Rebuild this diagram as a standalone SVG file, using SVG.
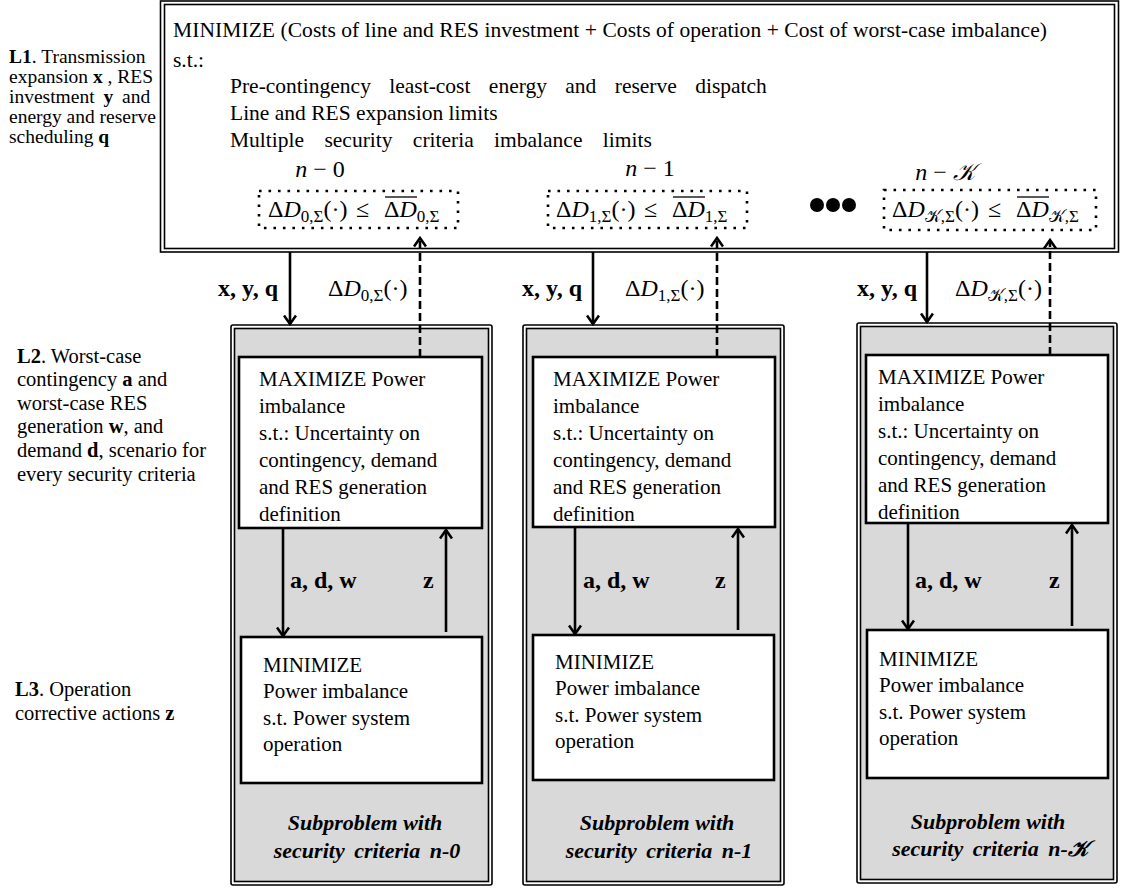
<svg xmlns="http://www.w3.org/2000/svg" width="1121" height="888" viewBox="0 0 1121 888">
  <style>
    .t { font-family: "Liberation Serif", "Times New Roman", serif; fill: #000; }
    .top { font-size: 21.5px; }
    .l1 { font-size: 19.5px; }
    .lab { font-size: 20.5px; }
    .bx { font-size: 21px; }
    .sp { font-size: 22px; font-weight: bold; font-style: italic; }
    .m { font-size: 24px; }
    .sub { font-size: 17px; }
    .i { font-style: italic; }
    .b { font-weight: bold; }
    .frame { fill: none; stroke: #000; stroke-width: 1.6; }
    .white { fill: #fff; stroke: #000; stroke-width: 2.6; }
    .gray { fill: #d9d9d9; stroke: #000; stroke-width: 1.6; }
    .dots { fill: none; stroke: #000; stroke-width: 2.6; stroke-dasharray: 2.6 6.9; }
    .solid { fill: none; stroke: #000; stroke-width: 2.6; marker-end: url(#head); }
    .dash { fill: none; stroke: #000; stroke-width: 2.6; stroke-dasharray: 8 4; marker-end: url(#head); }
    .ovl { stroke: #000; stroke-width: 1.3; }
  </style>
  <defs>
    <marker id="head" viewBox="0 0 12 14" markerWidth="12" markerHeight="14" refX="10" refY="7" orient="auto" markerUnits="userSpaceOnUse">
      <path d="M1.5,1 L10,7 L1.5,13" fill="none" stroke="#000" stroke-width="2.6" stroke-dasharray="none"/>
    </marker>
  </defs>

  <rect width="1121" height="888" fill="#fff"/>

  <!-- level labels on the left -->
  <g id="label-l1" class="t l1">
    <text x="9" y="63"><tspan class="b">L1</tspan>. Transmission</text>
    <text x="9" y="83">expansion <tspan class="b">x</tspan> , RES</text>
    <text x="9" y="103" word-spacing="4">investment  <tspan class="b">y</tspan> and</text>
    <text x="9" y="123">energy and reserve</text>
    <text x="9" y="143">scheduling <tspan class="b">q</tspan></text>
  </g>
  <g id="label-l2" class="t lab">
    <text x="17" y="363"><tspan class="b">L2</tspan>. Worst-case</text>
    <text x="17" y="386">contingency <tspan class="b">a</tspan> and</text>
    <text x="17" y="410">worst-case RES</text>
    <text x="17" y="433">generation <tspan class="b">w</tspan>, and</text>
    <text x="17" y="457">demand <tspan class="b">d</tspan>, scenario for</text>
    <text x="17" y="481">every security criteria</text>
  </g>
  <g id="label-l3" class="t lab">
    <text x="15" y="696"><tspan class="b">L3</tspan>. Operation</text>
    <text x="15" y="720">corrective actions <tspan class="b">z</tspan></text>
  </g>

  <!-- upper level: investment and scheduling problem -->
  <g id="master">
    <rect x="160.5" y="1" width="958" height="251" class="frame" fill="#fff"/>
    <rect x="164.5" y="4.5" width="950" height="244" class="frame"/>
    <g class="t top">
      <text x="173" y="37" textLength="874" lengthAdjust="spacing">MINIMIZE (Costs of line and RES investment + Costs of operation + Cost of worst-case imbalance)</text>
      <text x="173" y="67">s.t.:</text>
      <text x="230" y="93" word-spacing="13">Pre-contingency least-cost energy and reserve dispatch</text>
      <text x="230" y="120">Line and RES expansion limits</text>
      <text x="230" y="147" word-spacing="15">Multiple security criteria imbalance limits</text>
    </g>
    <g class="t m">
      <text x="320" y="177" text-anchor="middle"><tspan class="i">n</tspan> − 0</text>
      <text x="650" y="176" text-anchor="middle"><tspan class="i">n</tspan> − 1</text>
      <text x="945" y="180" text-anchor="middle"><tspan class="i">n</tspan> − <tspan class="i">𝒦</tspan></text>
    </g>
    <rect x="259" y="191" width="199" height="37" class="dots"/>
    <rect x="548" y="191" width="199" height="37" class="dots"/>
    <rect x="884" y="190" width="212" height="40" class="dots"/>
    <g class="t m">
      <text y="217"><tspan x="268">Δ</tspan><tspan class="i">D</tspan><tspan class="sub" dy="5">0,Σ</tspan><tspan dy="-5">(·)</tspan><tspan x="356">≤</tspan><tspan x="384">Δ</tspan><tspan class="i">D</tspan><tspan class="sub" dy="5">0,Σ</tspan></text>
      <text y="217"><tspan x="556">Δ</tspan><tspan class="i">D</tspan><tspan class="sub" dy="5">1,Σ</tspan><tspan dy="-5">(·)</tspan><tspan x="644">≤</tspan><tspan x="672">Δ</tspan><tspan class="i">D</tspan><tspan class="sub" dy="5">1,Σ</tspan></text>
      <text y="217"><tspan x="892">Δ</tspan><tspan class="i">D</tspan><tspan class="sub" dy="5">𝒦,Σ</tspan><tspan dy="-5">(·)</tspan><tspan x="988">≤</tspan><tspan x="1016">Δ</tspan><tspan class="i">D</tspan><tspan class="sub" dy="5">𝒦,Σ</tspan></text>
    </g>
    <line x1="385" y1="197" x2="417" y2="197" class="ovl"/>
    <line x1="673" y1="197" x2="705" y2="197" class="ovl"/>
    <line x1="1017" y1="197" x2="1049" y2="197" class="ovl"/>
    <g fill="#000">
      <circle cx="817" cy="205" r="7"/>
      <circle cx="833" cy="205" r="7"/>
      <circle cx="849" cy="205" r="7"/>
    </g>
  </g>

  <!-- subproblem n-0 -->
  <g id="sub-n0">
    <rect x="231" y="325" width="261" height="560" rx="2" class="frame" fill="#fff"/>
    <rect x="234.5" y="328.5" width="254" height="553" class="gray"/>
    <rect x="239" y="357" width="243" height="171" class="white"/>
    <rect x="241" y="637" width="241" height="146" class="white"/>
    <g class="t bx">
      <text x="259" y="386">MAXIMIZE Power</text>
      <text x="259" y="413">imbalance</text>
      <text x="259" y="440">s.t.: Uncertainty on</text>
      <text x="259" y="467">contingency, demand</text>
      <text x="259" y="494">and RES generation</text>
      <text x="259" y="521">definition</text>
      <text x="263" y="672">MINIMIZE</text>
      <text x="263" y="698">Power imbalance</text>
      <text x="263" y="725">s.t. Power system</text>
      <text x="263" y="751">operation</text>
    </g>
    <g class="t sp" text-anchor="middle">
      <text x="365" y="830">Subproblem with</text>
      <text x="367" y="858" word-spacing="4">security criteria n-0</text>
    </g>
  </g>

  <!-- subproblem n-1 -->
  <g id="sub-n1">
    <rect x="523" y="325" width="261" height="560" rx="2" class="frame" fill="#fff"/>
    <rect x="526.5" y="328.5" width="254" height="553" class="gray"/>
    <rect x="533" y="357" width="242" height="170" class="white"/>
    <rect x="533" y="635" width="241" height="145" class="white"/>
    <g class="t bx">
      <text x="553" y="386">MAXIMIZE Power</text>
      <text x="553" y="413">imbalance</text>
      <text x="553" y="440">s.t.: Uncertainty on</text>
      <text x="553" y="467">contingency, demand</text>
      <text x="553" y="494">and RES generation</text>
      <text x="553" y="521">definition</text>
      <text x="555" y="669">MINIMIZE</text>
      <text x="555" y="695">Power imbalance</text>
      <text x="555" y="722">s.t. Power system</text>
      <text x="555" y="748">operation</text>
    </g>
    <g class="t sp" text-anchor="middle">
      <text x="657" y="830">Subproblem with</text>
      <text x="659" y="858" word-spacing="4">security criteria n-1</text>
    </g>
  </g>

  <!-- subproblem n-K -->
  <g id="sub-nK">
    <rect x="857" y="323" width="260" height="560" rx="2" class="frame" fill="#fff"/>
    <rect x="860.5" y="326.5" width="253" height="553" class="gray"/>
    <rect x="866" y="355" width="242" height="168" class="white"/>
    <rect x="867" y="630" width="241" height="148" class="white"/>
    <g class="t bx">
      <text x="878" y="384">MAXIMIZE Power</text>
      <text x="878" y="411">imbalance</text>
      <text x="878" y="438">s.t.: Uncertainty on</text>
      <text x="878" y="465">contingency, demand</text>
      <text x="878" y="492">and RES generation</text>
      <text x="878" y="519">definition</text>
      <text x="879" y="666">MINIMIZE</text>
      <text x="879" y="692">Power imbalance</text>
      <text x="879" y="719">s.t. Power system</text>
      <text x="879" y="745">operation</text>
    </g>
    <g class="t sp" text-anchor="middle">
      <text x="988" y="829">Subproblem with</text>
      <text x="990" y="856" word-spacing="4">security criteria n-𝒦</text>
    </g>
  </g>

  <!-- connectors -->
  <g id="connectors">
    <line x1="290" y1="252" x2="290" y2="324" class="solid"/>
    <line x1="420" y1="357" x2="420" y2="238" class="dash"/>
    <line x1="283" y1="528" x2="283" y2="636" class="solid"/>
    <line x1="446" y1="632" x2="446" y2="530" class="solid"/>

    <line x1="593" y1="252" x2="593" y2="324" class="solid"/>
    <line x1="717" y1="357" x2="717" y2="238" class="dash"/>
    <line x1="575" y1="527" x2="575" y2="634" class="solid"/>
    <line x1="738" y1="630" x2="738" y2="529" class="solid"/>

    <line x1="927" y1="252" x2="927" y2="322" class="solid"/>
    <line x1="1050" y1="355" x2="1050" y2="240" class="dash"/>
    <line x1="908" y1="523" x2="908" y2="629" class="solid"/>
    <line x1="1072" y1="626" x2="1072" y2="525" class="solid"/>
  </g>

  <!-- connector labels -->
  <g id="connector-labels">
    <g class="t m b" font-size="22">
      <text x="218" y="296">x, y, q</text>
      <text x="522" y="296">x, y, q</text>
      <text x="857" y="296">x, y, q</text>
      <text x="290" y="588">a, d, w</text>
      <text x="583" y="588">a, d, w</text>
      <text x="915" y="588">a, d, w</text>
      <text x="423" y="588">z</text>
      <text x="715" y="588">z</text>
      <text x="1049" y="588">z</text>
    </g>
    <g class="t m">
      <text y="296"><tspan x="328">Δ</tspan><tspan class="i">D</tspan><tspan class="sub" dy="5">0,Σ</tspan><tspan dy="-5">(·)</tspan></text>
      <text y="296"><tspan x="625">Δ</tspan><tspan class="i">D</tspan><tspan class="sub" dy="5">1,Σ</tspan><tspan dy="-5">(·)</tspan></text>
      <text y="296"><tspan x="955">Δ</tspan><tspan class="i">D</tspan><tspan class="sub" dy="5">𝒦,Σ</tspan><tspan dy="-5">(·)</tspan></text>
    </g>
  </g>
</svg>
